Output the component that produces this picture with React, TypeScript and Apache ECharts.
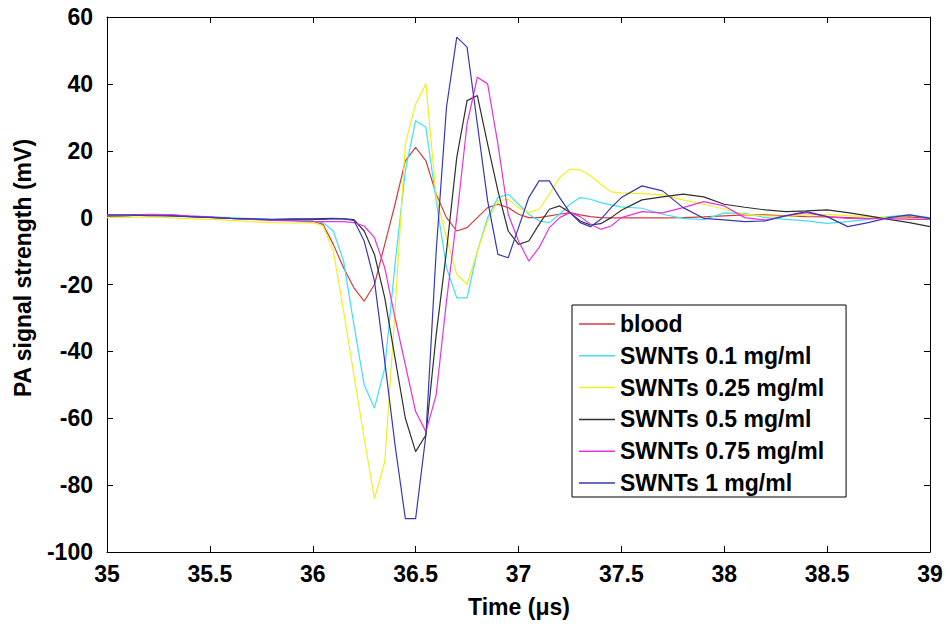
import React, { useEffect, useRef } from "react";
import * as echarts from "echarts";

const FONT = "'Liberation Sans', Arial, Helvetica, sans-serif";

// Time axis samples (μs)
const TIME = [
  35.0, 35.1, 35.2, 35.3, 35.4, 35.5, 35.6, 35.7, 35.8, 35.9, 36.0,
  36.05, 36.1, 36.15, 36.2, 36.25, 36.3, 36.35, 36.4, 36.45, 36.5,
  36.55, 36.6, 36.65, 36.7, 36.75, 36.8, 36.85, 36.9, 36.95, 37.0,
  37.05, 37.1, 37.15, 37.2, 37.25, 37.3, 37.35, 37.4, 37.45, 37.5,
  37.6, 37.7, 37.8, 37.9, 38.0, 38.1, 38.2, 38.3, 38.4, 38.5, 38.6, 38.7, 38.8, 38.9, 39.0,
];

const BLOOD = [
  0.5, 0.6, 0.8, 0.6, 0.3, 0.1, -0.2, -0.5, -0.7, -0.8, -1.0,
  -2, -8, -15, -21, -25, -20, -8, 4, 17, 21,
  17, 7, 0, -4, -3, 0, 3, 4, 3, 1,
  0, 0, 0.5, 1, 1.5, 0.8, 0.3, 0, -0.1, -0.1,
  -0.1, -0.1, 0, 0.2, 0.5, 0.8, 0.8, 0.5, 0.3, 0.2, 0, -0.2, 0, 0.2, -0.3,
];

const SWNT_01 = [
  0.8, 0.9, 0.7, 0.6, 0.4, 0.2, 0, -0.3, -0.6, -0.8, -1.0,
  -1.5, -4, -13, -32, -50, -57, -45, -14, 14, 29,
  27, 5, -15, -24, -24, -10, 0, 6, 7, 4,
  1, -1, -1.5, 1, 4, 6, 5.5, 4.5, 3.8, 3.2,
  2.8, 1, -0.2, -0.6, 1.4, 1.3, 0, -0.5, -1, -1.7, -1.2, -0.5, 0.3, 0.8, 0,
];

const SWNT_025 = [
  0, 0.1, 0.2, 0, -0.3, -0.5, -0.8, -1.2, -1.5, -1.6, -1.5,
  -2.5, -10, -28, -47, -66, -84, -73, -28, 22, 34,
  40, 6, -6, -17, -20, -10, -1, 5, 5.5, 3,
  1.5, 2.5, 7, 12, 14.5, 14.3, 12.5, 10, 7.7, 7.4,
  7.2, 6.8, 5.3, 4, 2.5, 1, 0.5, 0.4, 0.8, 1, 0.6, 0.3, 0, -0.3, -0.5,
];

const SWNT_05 = [
  0.5, 0.6, 0.9, 0.8, 0.4, 0.1, -0.2, -0.4, -0.5, -0.4, -0.4,
  -0.3, -0.2, -0.4, -0.6, -4, -11, -24, -42, -60, -70,
  -65, -35, -10, 18, 35, 36.5, 22, 8, -4, -8,
  -7, -2, 2.5, 3.5, 1.5, -1, -2.2, -1.8, 0, 2.2,
  5.3, 6.2, 7, 6.2, 4, 3.1, 2.3, 1.8, 2, 2.3, 1.5, 0.5, -0.5, -1.5, -2.7,
];

const SWNT_075 = [
  0.5, 0.7, 1.0, 0.9, 0.5, 0.2, -0.2, -0.5, -0.8, -1.0, -1.2,
  -1.2, -1.2, -1.2, -1.5, -2.5, -6, -15, -30, -44, -58,
  -64, -53, -25, 0, 28, 42, 40, 22, 1, -7,
  -13, -9, -3, 0, 1.5, 0.3, -2, -3.5, -2.5, 0,
  1.8, 1.4, 3, 4.8, 3.5, 0, -0.7, 0.5, 1.5, 0.3, -0.2, -0.3, -0.3, -0.5, -0.5,
];

const SWNT_1 = [
  0.8, 0.8, 0.6, 0.5, 0.3, 0.1, -0.2, -0.4, -0.6, -0.6, -0.5,
  -0.5, -0.3, -0.4, -0.8, -7, -19, -43, -68, -90, -90,
  -65, -10, 33, 54, 51, 28, 5, -11, -12, -3,
  6, 11, 11, 6, 1.5, -1.5, -2.7, -0.5, 3, 6,
  9.5, 8, 3, -0.2, -0.7, -1.2, -1, 0.6, 1.8, 0.3, -2.7, -1.5, 0, 0.8, -0.2,
];

const SERIES_NAMES = [
  "blood",
  "SWNTs 0.1 mg/ml",
  "SWNTs 0.25 mg/ml",
  "SWNTs 0.5 mg/ml",
  "SWNTs 0.75 mg/ml",
  "SWNTs 1 mg/ml",
];
const SERIES_VALUES = [BLOOD, SWNT_01, SWNT_025, SWNT_05, SWNT_075, SWNT_1];
const SERIES_COLORS = ["#d43c3c", "#40e0f0", "#f0f020", "#303030", "#e633e0", "#3838b0"];

const X_MIN = 35;
const X_MAX = 39;
const X_STEP = 0.5;
const Y_MIN = -100;
const Y_MAX = 60;
const Y_STEP = 20;

const X_TITLE = "Time (μs)";
const Y_TITLE = "PA signal strength (mV)";

export default function App() {
  const ref = useRef<HTMLDivElement>(null);

  useEffect(() => {
    if (!ref.current) return;
    const chart = echarts.init(ref.current, undefined, { renderer: "svg" });

    const labelStyle = {
      fontSize: 23,
      fontWeight: "bold" as const,
      color: "#000",
      fontFamily: FONT,
    };
    const axisLine = { show: true, onZero: false, lineStyle: { color: "#000", width: 1 } };
    const axisTick = { show: true, inside: true, length: 6, lineStyle: { color: "#000", width: 1 } };

    const option: any = {
      animation: false,
      backgroundColor: "#fff",
      grid: { left: 107, right: 18, top: 17, bottom: 74, containLabel: false },
      xAxis: [
        {
          type: "value",
          min: X_MIN,
          max: X_MAX,
          interval: X_STEP,
          position: "bottom",
          axisLine,
          axisTick,
          axisLabel: { ...labelStyle, margin: 10 },
          splitLine: { show: false },
        },
        {
          type: "value",
          min: X_MIN,
          max: X_MAX,
          interval: X_STEP,
          position: "top",
          axisLine,
          axisTick,
          axisLabel: { show: false },
          splitLine: { show: false },
        },
      ],
      yAxis: [
        {
          type: "value",
          min: Y_MIN,
          max: Y_MAX,
          interval: Y_STEP,
          position: "left",
          axisLine,
          axisTick,
          axisLabel: { ...labelStyle, margin: 14 },
          splitLine: { show: false },
        },
        {
          type: "value",
          min: Y_MIN,
          max: Y_MAX,
          interval: Y_STEP,
          position: "right",
          axisLine,
          axisTick,
          axisLabel: { show: false },
          splitLine: { show: false },
        },
      ],
      legend: {
        orient: "vertical",
        left: 572,
        top: 305,
        padding: [7, 22, 2, 7],
        icon: "rect",
        itemWidth: 36,
        itemHeight: 1.5,
        itemGap: 7.8,
        borderColor: "#000",
        borderWidth: 1,
        backgroundColor: "#fff",
        borderRadius: 0,
        textStyle: { ...labelStyle, lineHeight: 24 },
        data: SERIES_NAMES,
      },
      graphic: [
        {
          type: "text",
          x: 519,
          y: 607,
          style: {
            text: X_TITLE,
            font: `bold 23px ${FONT}`,
            fill: "#000",
            textAlign: "center",
            textVerticalAlign: "middle",
          },
        },
        {
          type: "text",
          x: 23,
          y: 268,
          rotation: Math.PI / 2,
          style: {
            text: Y_TITLE,
            font: `bold 23px ${FONT}`,
            fill: "#000",
            textAlign: "center",
            textVerticalAlign: "middle",
          },
        },
      ],
      series: SERIES_NAMES.map((name, i) => ({
        name,
        type: "line",
        xAxisIndex: 0,
        yAxisIndex: 0,
        symbol: "none",
        smooth: false,
        lineStyle: { color: SERIES_COLORS[i], width: 1.2 },
        itemStyle: { color: SERIES_COLORS[i] },
        data: TIME.map((t, j) => [t, SERIES_VALUES[i][j]]),
      })),
    };

    chart.setOption(option);
    return () => chart.dispose();
  }, []);

  return (
    <div
      ref={ref}
      style={{ position: "fixed", left: 0, top: 0, width: 948, height: 626, background: "#fff" }}
    />
  );
}
